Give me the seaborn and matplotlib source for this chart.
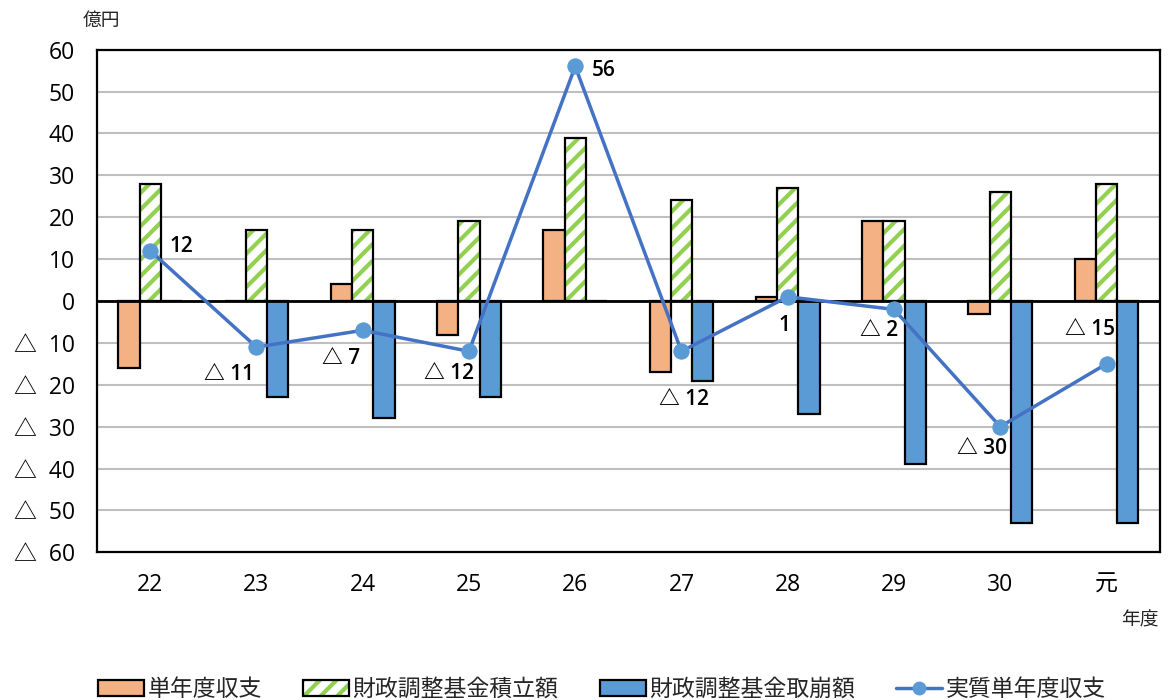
import numpy as np
import pandas as pd
import matplotlib
matplotlib.use('Agg')
import matplotlib.pyplot as plt
from matplotlib.lines import Line2D
from matplotlib.ticker import FuncFormatter, MultipleLocator
import seaborn as sns

# data (億円, 平成22年度 - 令和元年度)
years = ['22', '23', '24', '25', '26', '27', '28', '29', '30', '元']
tanendo = [-16, 0, 4, -8, 17, -17, 1, 19, -3, 10]          # 単年度収支
tsumitate = [28, 17, 17, 19, 39, 24, 27, 19, 26, 28]       # 財政調整基金積立額
torikuzushi = [0, -23, -28, -23, 0, -19, -27, -39, -53, -53]  # 財政調整基金取崩額
jisshitsu = [12, -11, -7, -12, 56, -12, 1, -2, -30, -15]   # 実質単年度収支
bar_names = ['単年度収支', '財政調整基金積立額', '財政調整基金取崩額']
line_name = '実質単年度収支'

ORANGE = '#F4B183'
GREEN = '#92D050'
BLUE = '#5B9BD5'
LINE = '#4472C4'

sns.set_theme(style='white')
# Open Sans for digits, CJK font picks up △ and the Japanese text
plt.rcParams['font.family'] = ['Open Sans', 'Noto Sans CJK JP', 'DejaVu Sans']
plt.rcParams['hatch.linewidth'] = 3.0

df = pd.DataFrame({
    'year': years * 3,
    'series': [bar_names[0]] * 10 + [bar_names[1]] * 10 + [bar_names[2]] * 10,
    'value': tanendo + tsumitate + torikuzushi,
})

fig = plt.figure(figsize=(11.69, 7.0), dpi=100)
ax = fig.add_axes([0.083, 0.211, 0.909, 0.718])

sns.barplot(data=df, x='year', y='value', hue='series', order=years,
            hue_order=bar_names, palette=[ORANGE, 'white', BLUE],
            width=0.6, gap=0, edgecolor='black', linewidth=1.6,
            saturation=1, legend=False, ax=ax)

# green diagonal hatch on the 積立額 bars, black outline kept
green_rgba = matplotlib.colors.to_rgba(GREEN)
for p in ax.containers[1].patches:
    p.set_hatch('//')
    p._hatch_color = green_rgba

ax.axhline(0, color='black', lw=2, zorder=2.5)

sns.lineplot(x=np.arange(len(years)), y=jisshitsu, ax=ax, color=LINE, lw=2.5,
             marker='o', markersize=11, markerfacecolor=BLUE,
             markeredgecolor=BLUE, zorder=5)

# value labels on the line
label_offsets = [(14, 3, 'left'), (-2, -20, 'right'), (-2, -20, 'right'),
                 (4, -16, 'right'), (12, -3, 'left'), (20, -35, 'right'),
                 (2, -21, 'right'), (3, -15, 'right'), (5, -16, 'right'),
                 (6, 25, 'right')]
for i, v in enumerate(jisshitsu):
    txt = f'{v}' if v >= 0 else f'△ {abs(v)}'
    dx, dy, ha = label_offsets[i]
    ax.annotate(txt, (i, v), xytext=(dx, dy), textcoords='offset points',
                ha=ha, va='center', fontsize=15, fontweight='semibold',
                color='black', zorder=6)

ax.set_xlim(-0.5, len(years) - 0.5)
ax.set_ylim(-60, 60)
ax.yaxis.set_major_locator(MultipleLocator(10))
ax.yaxis.set_major_formatter(FuncFormatter(
    lambda v, pos: f'{v:.0f}' if v >= 0 else f'△  {abs(v):.0f}'))
ax.grid(axis='y', color='#BFBFBF', lw=1.5)
ax.set_axisbelow(True)
ax.set_xlabel('')
ax.set_ylabel('')
ax.tick_params(axis='both', length=0, labelsize=16.5, colors='black')
ax.tick_params(axis='x', pad=15)
ax.tick_params(axis='y', pad=16)
for s in ax.spines.values():
    s.set_color('black')
    s.set_linewidth(1.6)

fig.text(101 / 1169, 1 - 21 / 700, '億円', ha='center', va='center', fontsize=13.5)
fig.text(1140 / 1169, 1 - 620 / 700, '年度', ha='center', va='center', fontsize=13.5)

handles = [ax.containers[0].patches[0], ax.containers[1].patches[0],
           ax.containers[2].patches[1],
           Line2D([], [], color=LINE, lw=2.5, marker='o', markersize=9,
                  markerfacecolor=BLUE, markeredgecolor=BLUE)]
fig.legend(handles, bar_names + [line_name], loc='center', ncol=4,
           bbox_to_anchor=(0.515, 1 - 690 / 700), frameon=False, fontsize=16.5,
           handlelength=2.0, handletextpad=0.15, columnspacing=1.8)

fig.savefig('out.png', dpi=100)
